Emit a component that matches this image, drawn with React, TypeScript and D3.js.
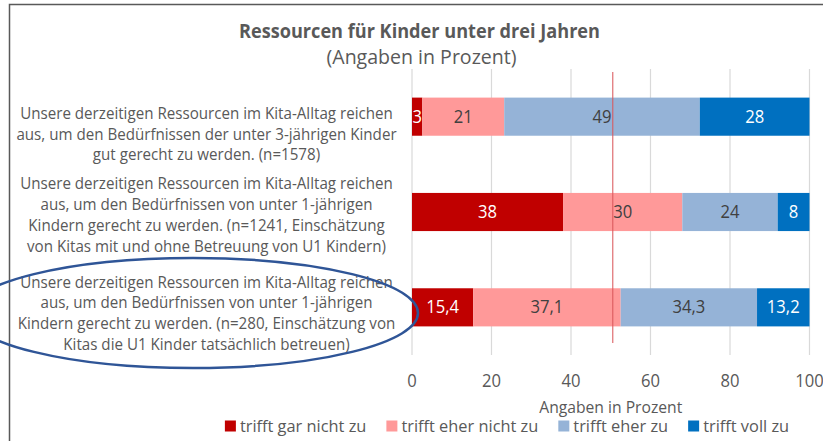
import { useEffect, useRef } from "react";
import * as d3 from "d3";

// categories (label lines as shown in the chart)
const categories = [
  [
    "Unsere derzeitigen Ressourcen im Kita-Alltag reichen",
    "aus, um den Bedürfnissen der unter 3-jährigen Kinder",
    "gut gerecht zu werden. (n=1578)",
  ],
  [
    "Unsere derzeitigen Ressourcen im Kita-Alltag reichen",
    "aus, um den Bedürfnissen von unter 1-jährigen",
    "Kindern gerecht zu werden. (n=1241, Einschätzung",
    "von Kitas mit und ohne Betreuung von U1 Kindern)",
  ],
  [
    "Unsere derzeitigen Ressourcen im Kita-Alltag reichen",
    "aus, um den Bedürfnissen von unter 1-jährigen",
    "Kindern gerecht zu werden. (n=280, Einschätzung von",
    "Kitas die U1 Kinder tatsächlich betreuen)",
  ],
];

const seriesNames = [
  "trifft gar nicht zu",
  "trifft eher nicht zu",
  "trifft eher zu",
  "trifft voll zu",
];
const garNicht = [2.6, 38, 15.4];
const eherNicht = [20.6, 30, 37.1];
const eherZu = [49.2, 24, 34.3];
const vollZu = [27.6, 8, 13.2];
const labelDecimals = [0, 0, 1];

const ticks = [0, 20, 40, 60, 80, 100];
const markerValue = 50.5;

const titleText = "Ressourcen für Kinder unter drei Jahren";
const subtitleText = "(Angaben in Prozent)";
const axisTitle = "Angaben in Prozent";

const colors = ["#C00000", "#FF9999", "#95B3D7", "#0070C0"];
const labelColors = ["#FFFFFF", "#404040", "#404040", "#FFFFFF"];
const textColor = "#595959";
const FONT = "'Open Sans', 'Noto Sans', sans-serif";

// reference string + width per text group, to mimic the narrow font of the original
const squeezeRefs: Record<string, [string, number]> = {
  cat: [categories[0][0], 372.6],
  title: [titleText, 361],
  subtitle: [subtitleText, 190],
  bar: ["38", 19],
  tick: ["20", 19],
  axis: [axisTitle, 143],
  legend: [seriesNames[0], 126.5],
};

export default function App() {
  const svgRef = useRef<SVGSVGElement>(null);

  useEffect(() => {
    const svg = d3.select(svgRef.current);
    svg.selectAll("*").remove();

    const width = 823;
    const height = 441;
    const plot = { left: 412, right: 809.5, top: 69, bottom: 355 };

    const series = [garNicht, eherNicht, eherZu, vollZu];
    const rows = categories.map((_, i) => series.map((s) => s[i]));
    const de = d3.formatLocale({
      decimal: ",",
      thousands: ".",
      grouping: [3],
      currency: ["", " €"],
    });

    const x = d3.scaleLinear().domain([0, 100]).range([plot.left, plot.right]);
    const y = d3
      .scaleBand<number>()
      .domain(categories.map((_, i) => i))
      .range([plot.top, plot.bottom])
      .paddingInner(0.6)
      .paddingOuter(0.3);

    svg.append("rect").attr("width", width).attr("height", height).attr("fill", "#fff");

    // frame
    svg
      .append("path")
      .attr("d", `M9.5,${height} V4.5 H${width}`)
      .attr("fill", "none")
      .attr("stroke", "#595959")
      .attr("stroke-width", 1.5);

    const texts: { node: SVGTextElement; group: string }[] = [];
    const addText = (
      g: any,
      group: string,
      tx: number,
      ty: number,
      str: string,
      size: number,
      fill = textColor,
      weight = "normal",
      anchor = "middle"
    ) => {
      const t = g
        .append("text")
        .attr("x", tx)
        .attr("y", ty)
        .attr("dy", "0.35em")
        .attr("text-anchor", anchor)
        .attr("font-family", FONT)
        .attr("font-size", size)
        .attr("font-weight", weight)
        .attr("fill", fill)
        .text(str);
      texts.push({ node: t.node(), group });
      return t;
    };

    // grid
    svg
      .append("g")
      .selectAll("line")
      .data(ticks)
      .join("line")
      .attr("x1", (d) => x(d))
      .attr("x2", (d) => x(d))
      .attr("y1", plot.top)
      .attr("y2", plot.bottom)
      .attr("stroke", "#D9D9D9")
      .attr("stroke-width", 1.2);

    // title
    addText(svg, "title", 419.5, 31.5, titleText, 19.5, textColor, "bold");
    addText(svg, "subtitle", 421.5, 57, subtitleText, 19.5);

    // bars
    const barG = svg.append("g");
    const labelG = svg.append("g");
    rows.forEach((vals, i) => {
      let acc = 0;
      vals.forEach((v, j) => {
        const x0 = x(acc);
        const x1 = x(acc + v);
        acc += v;
        barG
          .append("rect")
          .attr("x", x0)
          .attr("y", y(i)!)
          .attr("width", x1 - x0)
          .attr("height", y.bandwidth())
          .attr("fill", colors[j]);
        addText(
          labelG,
          "bar",
          (x0 + x1) / 2,
          y(i)! + y.bandwidth() / 2,
          de.format(`.${labelDecimals[i]}f`)(v),
          17.5,
          labelColors[j]
        );
      });
    });

    // marker line
    svg
      .append("line")
      .attr("x1", x(markerValue))
      .attr("x2", x(markerValue))
      .attr("y1", 72)
      .attr("y2", 343)
      .attr("stroke", "#D9575B")
      .attr("stroke-opacity", 0.8)
      .attr("stroke-width", 1.3);

    // category labels
    const labelOffsets = [17, 2.5, 5.5];
    const lineH = 20.8;
    const catG = svg.append("g");
    categories.forEach((lines, i) => {
      const cy = y(i)! + y.bandwidth() / 2 + labelOffsets[i];
      lines.forEach((l, k) => {
        addText(catG, "cat", 206.5, cy + (k - (lines.length - 1) / 2) * lineH, l, 17);
      });
    });

    // axis tick labels
    ticks.forEach((t) => addText(svg, "tick", x(t), 381, String(t), 17.5));
    addText(svg, "axis", (plot.left + plot.right) / 2, 407, axisTitle, 17);

    // legend
    const legendG = svg.append("g");
    const legendTexts = seriesNames.map((n) =>
      addText(legendG, "legend", 0, 426, n, 17, textColor, "normal", "start")
    );

    // condense text per group to match the narrow reference font
    const factors: Record<string, number> = {};
    Object.entries(squeezeRefs).forEach(([grp, [str, w]]) => {
      const ref = texts.find((t) => t.group === grp && t.node.textContent === str);
      factors[grp] = ref ? w / ref.node.getComputedTextLength() : 1;
    });
    const widths = new Map<SVGTextElement, number>();
    texts.forEach(({ node, group }) => {
      const w = node.getComputedTextLength() * factors[group];
      widths.set(node, w);
      node.setAttribute("textLength", String(w));
      node.setAttribute("lengthAdjust", "spacingAndGlyphs");
    });

    // lay out legend
    const sq = 11;
    const gapIn = 4;
    const gapOut = 20;
    const itemW = legendTexts.map((t) => sq + gapIn + widths.get(t.node())!);
    const total = d3.sum(itemW) + gapOut * (itemW.length - 1);
    let lx = 507 - total / 2;
    legendTexts.forEach((t, j) => {
      legendG
        .append("rect")
        .attr("x", lx)
        .attr("y", 426 - sq / 2)
        .attr("width", sq)
        .attr("height", sq)
        .attr("fill", colors[j]);
      t.attr("x", lx + sq + gapIn);
      lx += itemW[j] + gapOut;
    });

    // highlight ellipse
    svg
      .append("ellipse")
      .attr("cx", 193)
      .attr("cy", 313)
      .attr("rx", 225)
      .attr("ry", 55)
      .attr("fill", "none")
      .attr("stroke", "#2F5597")
      .attr("stroke-width", 2.5);
  }, []);

  return (
    <svg
      ref={svgRef}
      width={823}
      height={441}
      viewBox="0 0 823 441"
      style={{ position: "absolute", left: 0, top: 0, display: "block" }}
    />
  );
}
